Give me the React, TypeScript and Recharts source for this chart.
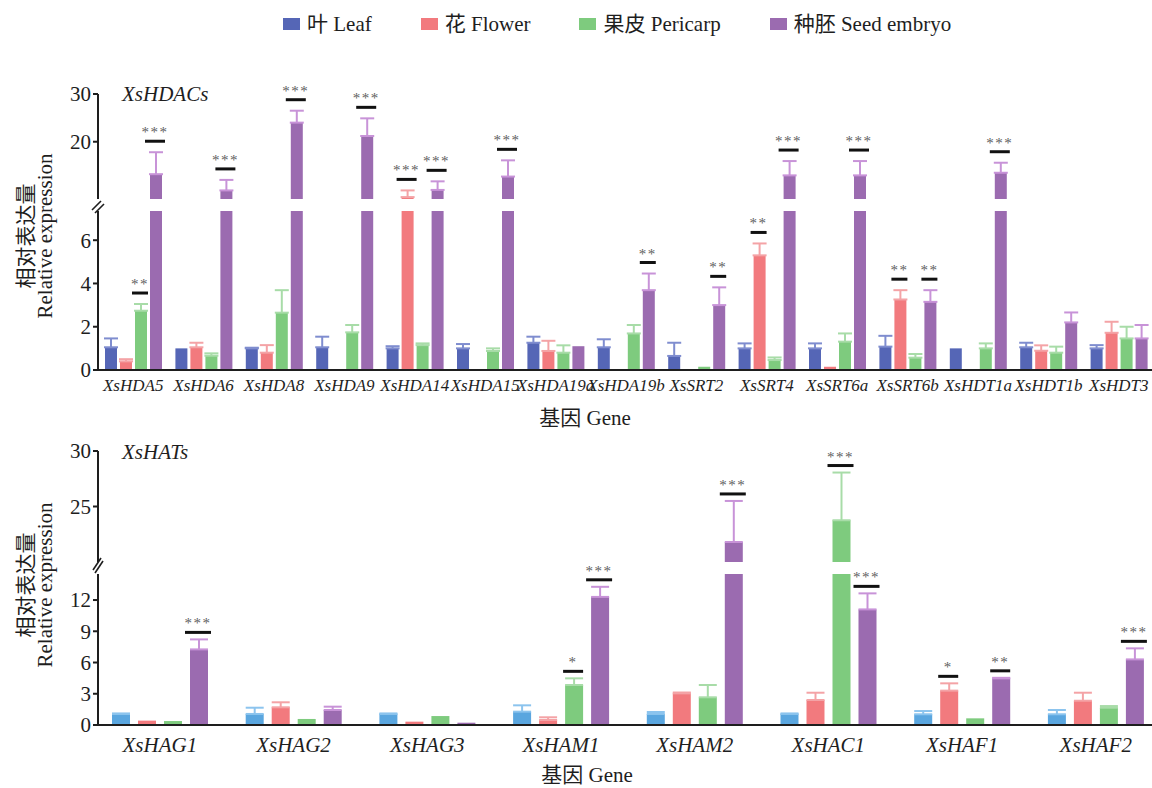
import { ComposedChart, Bar, ErrorBar, Scatter, XAxis, YAxis, Legend } from "recharts"

const FONT = '"Liberation Serif", "Times New Roman", "Noto Sans CJK SC", serif'
const INK = "#1e1e1e"

const tissueKeys = ["leaf", "flower", "pericarp", "seed"]
const tissueNames = ["叶 Leaf", "花 Flower", "果皮 Pericarp", "种胚 Seed embryo"]

// XsHDACs panel
const hdacGenes = ["XsHDA5", "XsHDA6", "XsHDA8", "XsHDA9", "XsHDA14", "XsHDA15", "XsHDA19a", "XsHDA19b", "XsSRT2", "XsSRT4", "XsSRT6a", "XsSRT6b", "XsHDT1a", "XsHDT1b", "XsHDT3"]
const hdacLeaf = [1.05, 1.0, 1.0, 1.05, 1.0, 1.0, 1.26, 1.05, 0.65, 1.0, 1.0, 1.08, 1.0, 1.05, 1.0]
const hdacLeafErr = [0.41, 0, 0.03, 0.49, 0.1, 0.2, 0.28, 0.37, 0.61, 0.23, 0.23, 0.5, 0, 0.21, 0.15]
const hdacFlower = [0.4, 1.05, 0.8, 0, 8.4, 0, 0.88, 0, 0, 5.3, 0.15, 3.26, 0, 0.89, 1.72]
const hdacFlowerErr = [0.1, 0.21, 0.35, 0, 1.4, 0, 0.47, 0, 0, 0.55, 0, 0.43, 0, 0.25, 0.51]
const hdacPericarp = [2.74, 0.66, 2.65, 1.74, 1.15, 0.88, 0.8, 1.69, 0.15, 0.46, 1.31, 0.57, 1.0, 0.8, 1.46]
const hdacPericarpErr = [0.31, 0.11, 1.04, 0.34, 0.08, 0.12, 0.34, 0.39, 0, 0.12, 0.38, 0.17, 0.23, 0.28, 0.54]
const hdacSeed = [13.2, 9.8, 24.0, 21.2, 9.9, 12.7, 1.1, 3.69, 3.0, 12.95, 12.95, 3.15, 13.5, 2.2, 1.46]
const hdacSeedErr = [4.6, 2.2, 2.5, 3.7, 1.8, 3.4, 0, 0.77, 0.82, 3.0, 3.0, 0.54, 2.1, 0.46, 0.62]
const hdacLeafSig = ["", "", "", "", "", "", "", "", "", "", "", "", "", "", ""]
const hdacFlowerSig = ["", "", "", "", "***", "", "", "", "", "**", "", "**", "", "", ""]
const hdacPericarpSig = ["**", "", "", "", "", "", "", "", "", "", "", "", "", "", ""]
const hdacSeedSig = ["***", "***", "***", "***", "***", "***", "", "**", "**", "***", "***", "**", "***", "", ""]

// XsHATs panel
const hatGenes = ["XsHAG1", "XsHAG2", "XsHAG3", "XsHAM1", "XsHAM2", "XsHAC1", "XsHAF1", "XsHAF2"]
const hatLeaf = [1.06, 1.06, 1.06, 1.28, 1.06, 1.06, 1.03, 1.03]
const hatLeafErr = [0.05, 0.6, 0.05, 0.61, 0.19, 0.05, 0.31, 0.41]
const hatFlower = [0.42, 1.7, 0.32, 0.48, 3.04, 2.4, 3.3, 2.33]
const hatFlowerErr = [0, 0.48, 0, 0.26, 0.08, 0.7, 0.7, 0.77]
const hatPericarp = [0.38, 0.58, 0.86, 3.84, 2.66, 23.76, 0.64, 1.66]
const hatPericarpErr = [0, 0, 0, 0.64, 1.18, 4.3, 0, 0.16]
const hatSeed = [7.26, 1.44, 0.22, 12.3, 21.8, 11.1, 4.48, 6.3]
const hatSeedErr = [0.96, 0.32, 0, 0.97, 3.7, 1.54, 0.05, 1.06]
const hatLeafSig = ["", "", "", "", "", "", "", ""]
const hatFlowerSig = ["", "", "", "", "", "", "*", ""]
const hatPericarpSig = ["", "", "", "*", "", "***", "", ""]
const hatSeedSig = ["***", "", "", "***", "***", "***", "**", "***"]

const hdacColors = ["#5566b6", "#f27a7e", "#7ecb7e", "#9b6bb0"]
const hdacErrColors = ["#7f8dcf", "#f4a3a6", "#a8dca8", "#c893d8"]
const hatColors = ["#5aa6df", "#f27a7e", "#7ecb7e", "#9b6bb0"]
const hatErrColors = ["#8cc4ee", "#f4a3a6", "#a8dca8", "#c893d8"]

type Row = Record<string, any>

function buildRows(genes: string[], vals: number[][], errs: number[][], sigs: string[][]): Row[] {
  return genes.map((gene, i) => {
    const row: Row = { gene }
    tissueKeys.forEach((k, t) => {
      row[k] = vals[t][i]
      row[k + "Err"] = errs[t][i]
      row[k + "Sig"] = sigs[t][i]
    })
    return row
  })
}

const hdacRows = buildRows(
  hdacGenes,
  [hdacLeaf, hdacFlower, hdacPericarp, hdacSeed],
  [hdacLeafErr, hdacFlowerErr, hdacPericarpErr, hdacSeedErr],
  [hdacLeafSig, hdacFlowerSig, hdacPericarpSig, hdacSeedSig]
)
const hatRows = buildRows(
  hatGenes,
  [hatLeaf, hatFlower, hatPericarp, hatSeed],
  [hatLeafErr, hatFlowerErr, hatPericarpErr, hatSeedErr],
  [hatLeafSig, hatFlowerSig, hatPericarpSig, hatSeedSig]
)

const LegendContent = (props: any) => {
  const items = (props.payload || [])
    .filter((e: any) => e.type !== "none" && tissueNames.includes(e.value))
    .sort((a: any, b: any) => tissueNames.indexOf(a.value) - tissueNames.indexOf(b.value))
  return (
    <div style={{ display: "flex", alignItems: "center", gap: 49, fontFamily: FONT, fontSize: 21, color: INK, lineHeight: "24px" }}>
      {items.map((e: any) => (
        <div key={e.value} style={{ display: "flex", alignItems: "center" }}>
          <span style={{ width: 17, height: 12, background: e.color, marginRight: 7 }} />
          <span>{e.value}</span>
        </div>
      ))}
    </div>
  )
}

interface SegmentProps {
  mode: "bars" | "marks"
  rows: Row[]
  colors: string[]
  errColors: string[]
  part: "upper" | "lower"
  brk: number
  domain: [number, number]
  ticks: number[]
  chartTop: number
  width: number
  plotTop: number
  plotHeight: number
  bottom: number
  right: number
  barSize: number
  barGap: number
  padLeft: number
  capWidth: number
  markGap: number
  lineWide: number
  lineNarrow: number
  xFontSize: number
  xTickSize: number
  xTickMargin: number
  showX?: boolean
  showLegend?: boolean
}

const PLOT_LEFT = 98
const Y_AXIS_W = 60

// one piece of a broken y axis; the svg edge cuts the bars at the break
function Segment(p: SegmentProps) {
  const inPart = (v: number) => (p.part === "upper" ? v > p.brk : v <= p.brk)
  const xAxisH = p.showX ? 30 : 0
  const height = p.plotTop + p.plotHeight + xAxisH + p.bottom
  const margin = {
    top: p.plotTop,
    right: p.right,
    bottom: p.bottom,
    left: p.mode === "bars" ? PLOT_LEFT - Y_AXIS_W : PLOT_LEFT,
  }
  const plotW = p.width - PLOT_LEFT - p.right
  const band = (plotW - p.padLeft) / p.rows.length
  const sum = tissueKeys.length * p.barSize + (tissueKeys.length - 1) * p.barGap
  const first = Math.floor((band - sum) / 2)
  // marks chart uses a point scale padded so points fall on band centres
  const offsets = tissueKeys.map((_, i) => first + i * (p.barSize + p.barGap) + p.barSize / 2 - band / 2)
  const xPadding =
    p.mode === "bars" ? { left: p.padLeft, right: 0 } : { left: p.padLeft + band / 2, right: band / 2 }

  return (
    <div style={{ position: "absolute", left: 0, top: p.chartTop - p.plotTop }}>
      <ComposedChart width={p.width} height={height} data={p.rows} margin={margin} barSize={p.barSize} barGap={p.barGap}>
        <XAxis
          dataKey="gene"
          scale={p.mode === "bars" ? "band" : "point"}
          hide={!(p.showX && p.mode === "bars")}
          height={xAxisH}
          padding={xPadding}
          interval={0}
          tickLine={false}
          tickSize={p.xTickSize}
          tickMargin={p.xTickMargin}
          axisLine={{ stroke: INK, strokeWidth: 2 }}
          tick={{ fill: INK, fontSize: p.xFontSize, fontStyle: "italic", fontFamily: FONT }}
        />
        {p.mode === "bars" ? (
          <YAxis
            type="number"
            domain={p.domain}
            ticks={p.ticks}
            allowDataOverflow
            width={Y_AXIS_W}
            tickSize={5}
            axisLine={{ stroke: INK, strokeWidth: 2 }}
            tickLine={{ stroke: INK, strokeWidth: 2 }}
            tick={{ fill: INK, fontSize: 21, fontFamily: FONT }}
          />
        ) : (
          <YAxis type="number" domain={p.domain} hide width={0} />
        )}
        {p.mode === "bars" &&
          tissueKeys.map((k, i) => (
            <Bar key={k} dataKey={k} name={tissueNames[i]} fill={p.colors[i]} isAnimationActive={false}>
              <ErrorBar
                dataKey={(d: Row) => (d[k + "Err"] && inPart(d[k]) ? [0, d[k + "Err"]] : null)}
                width={p.capWidth}
                stroke={p.errColors[i]}
                strokeWidth={2}
                direction="y"
              />
            </Bar>
          ))}
        {p.mode === "marks" &&
          tissueKeys.map((k, i) => (
            <Scatter
              key={k + "-sig"}
              name={k + "-sig"}
              legendType="none"
              isAnimationActive={false}
              dataKey={(d: Row) => (d[k + "Sig"] && inPart(d[k]) ? d[k] + (d[k + "Err"] || 0) : null)}
              shape={(s: any) => {
                const sig = s.payload ? s.payload[k + "Sig"] : ""
                if (!sig || s.cy == null || !Number.isFinite(s.cy) || !inPart(s.payload[k])) return <g />
                const x = s.cx + offsets[i]
                const ly = s.cy - p.markGap
                const lw = sig.length >= 3 ? p.lineWide : p.lineNarrow
                return (
                  <g>
                    <line x1={x - lw / 2} x2={x + lw / 2} y1={ly} y2={ly} stroke="#111" strokeWidth={3} />
                    <text x={x} y={ly - 4} textAnchor="middle" fontSize={15} fill="#606060" fontFamily={FONT} letterSpacing={1.5}>
                      {sig}
                    </text>
                  </g>
                )
              }}
            />
          ))}
        {p.showLegend && p.mode === "bars" && (
          <Legend
            verticalAlign="middle"
            align="center"
            content={LegendContent}
            wrapperStyle={{ top: 12, left: 283, width: 820, height: 24 }}
          />
        )}
      </ComposedChart>
    </div>
  )
}

const hdacBase = {
  rows: hdacRows, colors: hdacColors, errColors: hdacErrColors, brk: 7.35,
  width: 1160, right: 6, barSize: 12, barGap: 3, padLeft: 0, capWidth: 7,
  markGap: 11, lineWide: 20, lineNarrow: 16, xFontSize: 17, xTickSize: 4, xTickMargin: 5,
}
const hatBase = {
  rows: hatRows, colors: hatColors, errColors: hatErrColors, brk: 14.5,
  width: 1170, right: 7.4, barSize: 18, barGap: 8, padLeft: -5, capWidth: 9,
  markGap: 7, lineWide: 26, lineNarrow: 20, xFontSize: 21, xTickSize: 6, xTickMargin: 6,
}

const textStyle = { fontFamily: FONT, fill: INK }

export default function App() {
  return (
    <div style={{ position: "absolute", left: 0, top: 0, width: 1152, height: 788, overflow: "hidden", background: "#fff" }}>
      {/* XsHDACs */}
      <Segment {...hdacBase} mode="bars" part="upper" domain={[8, 30]} ticks={[10, 20, 30]}
        chartTop={94} plotTop={94} plotHeight={105} bottom={0} showLegend />
      <Segment {...hdacBase} mode="bars" part="lower" domain={[0, 7.35]} ticks={[0, 2, 4, 6]}
        chartTop={211} plotTop={0} plotHeight={159} bottom={10} showX />
      <Segment {...hdacBase} mode="marks" part="upper" domain={[8, 30]} ticks={[10, 20, 30]}
        chartTop={94} plotTop={94} plotHeight={105} bottom={0} />
      <Segment {...hdacBase} mode="marks" part="lower" domain={[0, 7.35]} ticks={[0, 2, 4, 6]}
        chartTop={211} plotTop={60} plotHeight={159} bottom={0} />

      {/* XsHATs */}
      <Segment {...hatBase} mode="bars" part="upper" domain={[20, 30]} ticks={[25, 30]}
        chartTop={451} plotTop={31} plotHeight={111} bottom={0} />
      <Segment {...hatBase} mode="bars" part="lower" domain={[0, 14.5]} ticks={[0, 3, 6, 9, 12]}
        chartTop={574} plotTop={0} plotHeight={151} bottom={10} showX />
      <Segment {...hatBase} mode="marks" part="upper" domain={[20, 30]} ticks={[25, 30]}
        chartTop={451} plotTop={31} plotHeight={111} bottom={0} />
      <Segment {...hatBase} mode="marks" part="lower" domain={[0, 14.5]} ticks={[0, 3, 6, 9, 12]}
        chartTop={574} plotTop={60} plotHeight={151} bottom={0} />

      <svg width={1152} height={788} style={{ position: "absolute", left: 0, top: 0, pointerEvents: "none" }}>
        <text x={122} y={101} fontSize={21} fontStyle="italic" {...textStyle}>XsHDACs</text>
        <text x={122} y={459} fontSize={21} fontStyle="italic" {...textStyle}>XsHATs</text>
        <text x={585} y={425} fontSize={21} textAnchor="middle" {...textStyle}>基因 Gene</text>
        <text x={587} y={782} fontSize={21} textAnchor="middle" {...textStyle}>基因 Gene</text>
        <text transform="translate(33, 236) rotate(-90)" fontSize={21} textAnchor="middle" {...textStyle}>相对表达量</text>
        <text transform="translate(52, 236) rotate(-90)" fontSize={21} textAnchor="middle" {...textStyle}>Relative expression</text>
        <text transform="translate(33, 585) rotate(-90)" fontSize={21} textAnchor="middle" {...textStyle}>相对表达量</text>
        <text transform="translate(52, 585) rotate(-90)" fontSize={21} textAnchor="middle" {...textStyle}>Relative expression</text>
        <line x1={92} y1={210} x2={101} y2={201} stroke={INK} strokeWidth={1.6} />
        <line x1={95} y1={213} x2={104} y2={204} stroke={INK} strokeWidth={1.6} />
        <line x1={93} y1={570} x2={101} y2={558} stroke={INK} strokeWidth={1.6} />
        <line x1={95} y1={573} x2={103} y2={561} stroke={INK} strokeWidth={1.6} />
      </svg>
    </div>
  )
}
